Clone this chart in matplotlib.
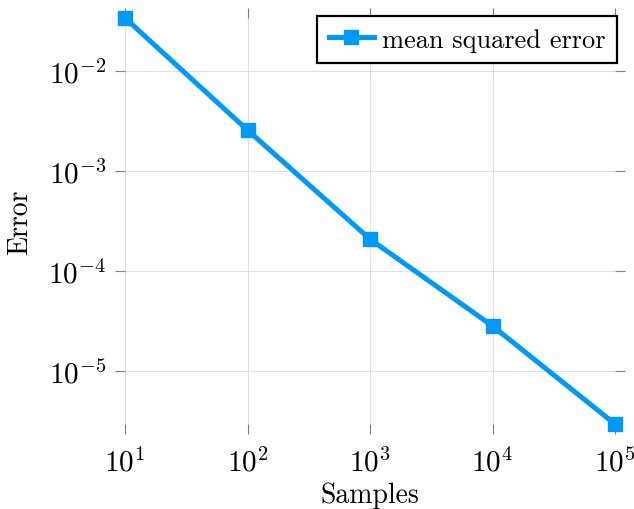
import matplotlib
matplotlib.use("Agg")
import matplotlib.pyplot as plt
from matplotlib.ticker import LogLocator, NullLocator, LogFormatterMathtext

plt.rcParams['font.family'] = 'serif'
plt.rcParams['font.serif'] = ['cmr10', 'DejaVu Serif']
plt.rcParams['mathtext.fontset'] = 'cm'
plt.rcParams['axes.formatter.use_mathtext'] = True

samples = [10, 100, 1000, 10000, 100000]
mse = [0.0337, 2.55e-3, 2.07e-4, 2.8e-5, 2.93e-6]
series_label = "mean squared error"
xlabel = "Samples"
ylabel = "Error"

fig = plt.figure(figsize=(6.34, 5.10), dpi=100)
ax = fig.add_axes([125/634, 85/510, (615-125)/634, (425-19)/510])

color = '#0099F7'
ax.plot(samples, mse, color=color, lw=3.6, marker='s', ms=9.5,
        label=series_label, solid_joinstyle='miter', clip_on=False, zorder=5)
ax.set_xscale('log')
ax.set_yscale('log')
ax.set_xlim(min(samples), max(samples))
ax.set_ylim(min(mse), max(mse))

ax.xaxis.set_major_locator(LogLocator(base=10, numticks=10))
ax.yaxis.set_major_locator(LogLocator(base=10, numticks=10))
ax.xaxis.set_minor_locator(NullLocator())
ax.yaxis.set_minor_locator(NullLocator())
ax.xaxis.set_major_formatter(LogFormatterMathtext())
ax.yaxis.set_major_formatter(LogFormatterMathtext())

for s in ax.spines.values():
    s.set_visible(False)

ax.grid(True, color='#e0e0e0', lw=0.8)
ax.set_axisbelow(True)
ax.tick_params(which='major', direction='out', length=7.5, width=0.8,
               color='#7f7f7f', labelsize=21, top=True, right=True,
               labeltop=False, labelright=False)
ax.tick_params(axis='x', pad=9)
ax.tick_params(axis='y', pad=6)

ax.set_xlabel(xlabel, fontsize=20, labelpad=4)
ax.set_ylabel(ylabel, fontsize=20, labelpad=11)

leg = ax.legend(loc='upper right', fontsize=19, frameon=True, fancybox=False,
                handlelength=1.7, borderpad=0.45, handletextpad=0.3,
                bbox_to_anchor=(617/634, 1 - 17/510), bbox_transform=fig.transFigure,
                borderaxespad=0)
leg.get_frame().set_edgecolor('black')
leg.get_frame().set_linewidth(1.6)
leg.get_frame().set_alpha(1)

fig.savefig('out.png', dpi=100)
